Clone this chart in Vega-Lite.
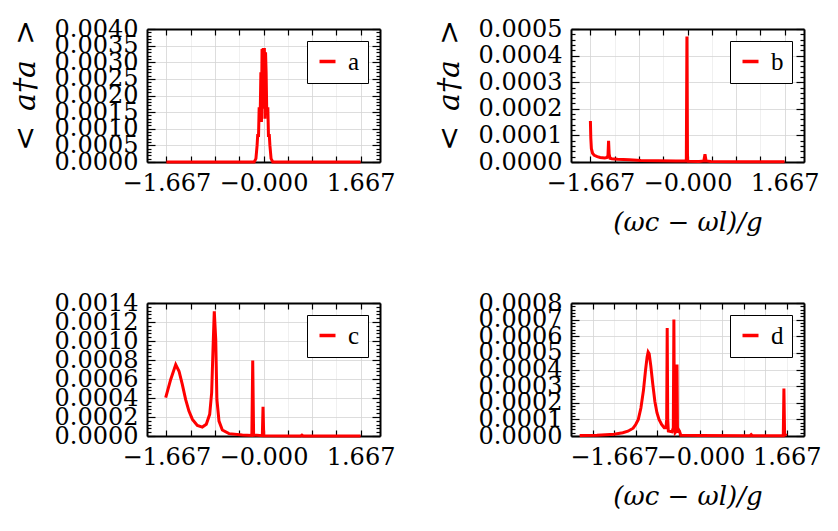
{
  "$schema": "https://vega.github.io/schema/vega-lite/v6.json",
  "background": "white",
  "padding": {"left": 10, "top": 17, "right": 5, "bottom": 5},
  "bounds": "flush",
  "columns": 2,
  "spacing": {"row": 141, "column": 191},
  "resolve": {"scale": {"color": "independent", "x": "independent", "y": "independent"}, "legend": {"color": "independent"}},
  "datasets": {
    "a": [
      {"s":"a","x":-1.667,"y":0},{"s":"a","x":-1.0,"y":0},{"s":"a","x":-0.5,"y":0},{"s":"a","x":-0.16,"y":0},
      {"s":"a","x":-0.13,"y":0.0001},{"s":"a","x":-0.11,"y":0.0005},{"s":"a","x":-0.1,"y":0.0008},{"s":"a","x":-0.085,"y":0.0008},
      {"s":"a","x":-0.075,"y":0.0016},{"s":"a","x":-0.055,"y":0.0016},{"s":"a","x":-0.045,"y":0.0027},{"s":"a","x":-0.035,"y":0.0012},
      {"s":"a","x":-0.025,"y":0.0034},{"s":"a","x":-0.015,"y":0.0016},{"s":"a","x":-0.005,"y":0.00343},{"s":"a","x":0.005,"y":0.0018},
      {"s":"a","x":0.015,"y":0.00343},{"s":"a","x":0.025,"y":0.0013},{"s":"a","x":0.035,"y":0.0033},{"s":"a","x":0.045,"y":0.0027},
      {"s":"a","x":0.055,"y":0.0016},{"s":"a","x":0.075,"y":0.0016},{"s":"a","x":0.085,"y":0.0008},{"s":"a","x":0.1,"y":0.0008},
      {"s":"a","x":0.11,"y":0.0005},{"s":"a","x":0.13,"y":0.0001},{"s":"a","x":0.16,"y":0},{"s":"a","x":0.5,"y":0},
      {"s":"a","x":1.0,"y":0},{"s":"a","x":1.667,"y":0}
    ],
    "b": [
      {"s":"b","x":-1.667,"y":0.000154},{"s":"b","x":-1.66,"y":0.00009},{"s":"b","x":-1.65,"y":0.00005},{"s":"b","x":-1.63,"y":0.000033},
      {"s":"b","x":-1.6,"y":0.000025},{"s":"b","x":-1.55,"y":0.00002},{"s":"b","x":-1.5,"y":0.000017},{"s":"b","x":-1.42,"y":0.000015},
      {"s":"b","x":-1.38,"y":0.000017},{"s":"b","x":-1.365,"y":0.000025},{"s":"b","x":-1.355,"y":0.00008},{"s":"b","x":-1.345,"y":0.00003},
      {"s":"b","x":-1.33,"y":0.000014},{"s":"b","x":-1.3,"y":0.000012},{"s":"b","x":-1.2,"y":0.00001},{"s":"b","x":-1.0,"y":0.000008},
      {"s":"b","x":-0.8,"y":0.000006},{"s":"b","x":-0.5,"y":0.000005},{"s":"b","x":-0.2,"y":0.000004},{"s":"b","x":-0.03,"y":0.000004},
      {"s":"b","x":-0.02,"y":0.00001},{"s":"b","x":-0.01,"y":0.000472},{"s":"b","x":0.0,"y":0.00001},{"s":"b","x":0.01,"y":0.000003},
      {"s":"b","x":0.2,"y":0.000002},{"s":"b","x":0.28,"y":0.000004},{"s":"b","x":0.3,"y":0.000029},{"s":"b","x":0.32,"y":0.000004},
      {"s":"b","x":0.4,"y":0.000002},{"s":"b","x":1.0,"y":0.000001},{"s":"b","x":1.667,"y":0.000001}
    ],
    "c": [
      {"s":"c","x":-1.679,"y":0.000403},{"s":"c","x":-1.593,"y":0.000595},{"s":"c","x":-1.507,"y":0.000752},{"s":"c","x":-1.45,"y":0.000682},
      {"s":"c","x":-1.394,"y":0.000543},{"s":"c","x":-1.337,"y":0.000385},{"s":"c","x":-1.28,"y":0.000262},{"s":"c","x":-1.22,"y":0.000175},
      {"s":"c","x":-1.136,"y":0.000112},{"s":"c","x":-1.05,"y":0.000094},{"s":"c","x":-0.982,"y":0.000123},{"s":"c","x":-0.924,"y":0.000228},
      {"s":"c","x":-0.89,"y":0.000455},{"s":"c","x":-0.867,"y":0.00091},{"s":"c","x":-0.845,"y":0.001312},{"s":"c","x":-0.82,"y":0.001015},
      {"s":"c","x":-0.8,"y":0.000385},{"s":"c","x":-0.764,"y":0.000157},{"s":"c","x":-0.707,"y":0.000063},{"s":"c","x":-0.592,"y":0.000025},
      {"s":"c","x":-0.363,"y":0.00001},{"s":"c","x":-0.2,"y":0.000006},{"s":"c","x":-0.185,"y":0.000794},{"s":"c","x":-0.17,"y":0.00001},
      {"s":"c","x":-0.02,"y":0.000003},{"s":"c","x":-0.008,"y":0.000308},{"s":"c","x":0.004,"y":0.000003},{"s":"c","x":0.64,"y":0.000001},
      {"s":"c","x":0.66,"y":0.00001},{"s":"c","x":0.68,"y":0.000001},{"s":"c","x":1.667,"y":0.000001}
    ],
    "d": [
      {"s":"d","x":-2.333,"y":0.000003},{"s":"d","x":-2.0,"y":0.000005},{"s":"d","x":-1.667,"y":0.000011},{"s":"d","x":-1.5,"y":0.00002},
      {"s":"d","x":-1.4,"y":0.000029},{"s":"d","x":-1.3,"y":0.000047},{"s":"d","x":-1.25,"y":0.000069},{"s":"d","x":-1.2,"y":0.0001},
      {"s":"d","x":-1.15,"y":0.000168},{"s":"d","x":-1.1,"y":0.000276},{"s":"d","x":-1.06,"y":0.000398},{"s":"d","x":-1.03,"y":0.000475},
      {"s":"d","x":-1.01,"y":0.000505},{"s":"d","x":-0.99,"y":0.000495},{"s":"d","x":-0.96,"y":0.000425},{"s":"d","x":-0.92,"y":0.00031},
      {"s":"d","x":-0.88,"y":0.000208},{"s":"d","x":-0.84,"y":0.00014},{"s":"d","x":-0.8,"y":0.0001},{"s":"d","x":-0.75,"y":0.00007},
      {"s":"d","x":-0.7,"y":0.00005},{"s":"d","x":-0.665,"y":0.00005},{"s":"d","x":-0.652,"y":0.0001},{"s":"d","x":-0.642,"y":0.00065},
      {"s":"d","x":-0.632,"y":0.0001},{"s":"d","x":-0.62,"y":0.00003},{"s":"d","x":-0.55,"y":0.000025},{"s":"d","x":-0.524,"y":0.00005},
      {"s":"d","x":-0.513,"y":0.0007},{"s":"d","x":-0.503,"y":0.00005},{"s":"d","x":-0.49,"y":0.00002},{"s":"d","x":-0.465,"y":0.00003},
      {"s":"d","x":-0.453,"y":0.00043},{"s":"d","x":-0.443,"y":0.00002},{"s":"d","x":-0.425,"y":0.00004},{"s":"d","x":-0.405,"y":0.00003},
      {"s":"d","x":-0.38,"y":0.000005},{"s":"d","x":0.0,"y":0.000003},{"s":"d","x":0.96,"y":0.000002},{"s":"d","x":0.98,"y":0.000008},
      {"s":"d","x":1.0,"y":0.000002},{"s":"d","x":1.6,"y":0.000002},{"s":"d","x":1.612,"y":0.000285},{"s":"d","x":1.625,"y":0.00001},
      {"s":"d","x":1.667,"y":0.000003}
    ]
  },
  "concat": [
    {
      "width": 233, "height": 133,
      "data": {"name": "a"},
      "layer": [
        {
          "mark": {"type": "line", "strokeWidth": 3},
          "encoding": {
            "x": {"field": "x", "type": "quantitative", "scale": {"domain": [-2, 2], "nice": false, "zero": false},
              "axis": {"orient": "bottom", "title": null, "values": [-1.66667,-1.25,-0.83333,-0.41667,0,0.41667,0.83333,1.25,1.66667],
                "labelExpr": "abs(datum.value + 1.66667) < 0.01 ? '−1.667' : abs(datum.value) < 0.01 ? '−0.000' : abs(datum.value - 1.66667) < 0.01 ? '1.667' : ''",
                "tickSize": -6, "labelPadding": 15, "grid": true,
                "gridOpacity": {"condition": {"test": "abs(datum.value/0.83333 - round(datum.value/0.83333)) < 0.01", "value": 1}, "value": 0.45}}},
            "y": {"field": "y", "type": "quantitative", "scale": {"domain": [0, 0.004], "nice": false},
              "axis": {"orient": "left", "title": "<\u2002a†a\u2002>", "titleFontStyle": "italic", "titlePadding": 14, "titleY": 56,
                "values": [0,0.0001,0.0002,0.0003,0.0004,0.0005,0.0006,0.0007,0.0008,0.0009,0.001,0.0011,0.0012,0.0013,0.0014,0.0015,0.0016,0.0017,0.0018,0.0019,0.002,0.0021,0.0022,0.0023,0.0024,0.0025,0.0026,0.0027,0.0028,0.0029,0.003,0.0031,0.0032,0.0033,0.0034,0.0035,0.0036,0.0037,0.0038,0.0039,0.004],
                "labelExpr": "abs(datum.value*2000 - round(datum.value*2000)) < 0.01 ? format(datum.value, '.4f') : ''",
                "tickSize": {"condition": {"test": "abs(datum.value*2000 - round(datum.value*2000)) < 0.01", "value": -8}, "value": -4},
                "labelPadding": 17, "grid": true,
                "gridOpacity": {"condition": {"test": "abs(datum.value*2000 - round(datum.value*2000)) < 0.01", "value": 1}, "value": 0}}},
            "color": {"field": "s", "type": "nominal", "scale": {"range": ["red"]}}
          }
        },
        {
          "mark": {"type": "line", "opacity": 0},
          "encoding": {
            "x": {"field": "x", "type": "quantitative", "scale": {"domain": [-2, 2], "nice": false, "zero": false},
              "axis": {"orient": "top", "title": null, "labels": false, "grid": false, "tickSize": -6,
                "values": [-1.66667,-1.25,-0.83333,-0.41667,0,0.41667,0.83333,1.25,1.66667]}},
            "y": {"field": "y", "type": "quantitative", "scale": {"domain": [0, 0.004], "nice": false},
              "axis": {"orient": "right", "title": null, "labels": false, "grid": false,
                "values": [0,0.0001,0.0002,0.0003,0.0004,0.0005,0.0006,0.0007,0.0008,0.0009,0.001,0.0011,0.0012,0.0013,0.0014,0.0015,0.0016,0.0017,0.0018,0.0019,0.002,0.0021,0.0022,0.0023,0.0024,0.0025,0.0026,0.0027,0.0028,0.0029,0.003,0.0031,0.0032,0.0033,0.0034,0.0035,0.0036,0.0037,0.0038,0.0039,0.004],
                "tickSize": {"condition": {"test": "abs(datum.value*2000 - round(datum.value*2000)) < 0.01", "value": -8}, "value": -4}}}
          }
        }
      ]
    },
    {
      "width": 233, "height": 133,
      "data": {"name": "b"},
      "layer": [
        {
          "mark": {"type": "line", "strokeWidth": 3},
          "encoding": {
            "x": {"field": "x", "type": "quantitative", "scale": {"domain": [-2, 2], "nice": false, "zero": false},
              "axis": {"orient": "bottom", "title": "(ωc − ωl)/g", "titleFontStyle": "italic", "titleFontSize": 26, "titlePadding": 14,
                "values": [-1.66667,-1.25,-0.83333,-0.41667,0,0.41667,0.83333,1.25,1.66667],
                "labelExpr": "abs(datum.value + 1.66667) < 0.01 ? '−1.667' : abs(datum.value) < 0.01 ? '−0.000' : abs(datum.value - 1.66667) < 0.01 ? '1.667' : ''",
                "tickSize": -6, "labelPadding": 15, "grid": true,
                "gridOpacity": {"condition": {"test": "abs(datum.value/0.83333 - round(datum.value/0.83333)) < 0.01", "value": 1}, "value": 0.45}}},
            "y": {"field": "y", "type": "quantitative", "scale": {"domain": [0, 0.0005], "nice": false},
              "axis": {"orient": "left", "title": "<\u2002a†a\u2002>", "titleFontStyle": "italic", "titlePadding": 14, "titleY": 56,
                "values": [0,0.00002,0.00004,0.00006,0.00008,0.0001,0.00012,0.00014,0.00016,0.00018,0.0002,0.00022,0.00024,0.00026,0.00028,0.0003,0.00032,0.00034,0.00036,0.00038,0.0004,0.00042,0.00044,0.00046,0.00048,0.0005],
                "labelExpr": "abs(datum.value*10000 - round(datum.value*10000)) < 0.01 ? format(datum.value, '.4f') : ''",
                "tickSize": {"condition": {"test": "abs(datum.value*10000 - round(datum.value*10000)) < 0.01", "value": -8}, "value": -4},
                "labelPadding": 17, "grid": true,
                "gridOpacity": {"condition": {"test": "abs(datum.value*10000 - round(datum.value*10000)) < 0.01", "value": 1}, "value": 0}}},
            "color": {"field": "s", "type": "nominal", "scale": {"range": ["red"]}}
          }
        },
        {
          "mark": {"type": "line", "opacity": 0},
          "encoding": {
            "x": {"field": "x", "type": "quantitative", "scale": {"domain": [-2, 2], "nice": false, "zero": false},
              "axis": {"orient": "top", "title": null, "labels": false, "grid": false, "tickSize": -6,
                "values": [-1.66667,-1.25,-0.83333,-0.41667,0,0.41667,0.83333,1.25,1.66667]}},
            "y": {"field": "y", "type": "quantitative", "scale": {"domain": [0, 0.0005], "nice": false},
              "axis": {"orient": "right", "title": null, "labels": false, "grid": false,
                "values": [0,0.00002,0.00004,0.00006,0.00008,0.0001,0.00012,0.00014,0.00016,0.00018,0.0002,0.00022,0.00024,0.00026,0.00028,0.0003,0.00032,0.00034,0.00036,0.00038,0.0004,0.00042,0.00044,0.00046,0.00048,0.0005],
                "tickSize": {"condition": {"test": "abs(datum.value*10000 - round(datum.value*10000)) < 0.01", "value": -8}, "value": -4}}}
          }
        }
      ]
    },
    {
      "width": 233, "height": 133,
      "data": {"name": "c"},
      "layer": [
        {
          "mark": {"type": "line", "strokeWidth": 3},
          "encoding": {
            "x": {"field": "x", "type": "quantitative", "scale": {"domain": [-2, 2], "nice": false, "zero": false},
              "axis": {"orient": "bottom", "title": null, "values": [-1.66667,-1.25,-0.83333,-0.41667,0,0.41667,0.83333,1.25,1.66667],
                "labelExpr": "abs(datum.value + 1.66667) < 0.01 ? '−1.667' : abs(datum.value) < 0.01 ? '−0.000' : abs(datum.value - 1.66667) < 0.01 ? '1.667' : ''",
                "tickSize": -6, "labelPadding": 15, "grid": true,
                "gridOpacity": {"condition": {"test": "abs(datum.value/0.83333 - round(datum.value/0.83333)) < 0.01", "value": 1}, "value": 0.45}}},
            "y": {"field": "y", "type": "quantitative", "scale": {"domain": [0, 0.0014], "nice": false},
              "axis": {"orient": "left", "title": null,
                "values": [0,0.00004,0.00008,0.00012,0.00016,0.0002,0.00024,0.00028,0.00032,0.00036,0.0004,0.00044,0.00048,0.00052,0.00056,0.0006,0.00064,0.00068,0.00072,0.00076,0.0008,0.00084,0.00088,0.00092,0.00096,0.001,0.00104,0.00108,0.00112,0.00116,0.0012,0.00124,0.00128,0.00132,0.00136,0.0014],
                "labelExpr": "abs(datum.value*5000 - round(datum.value*5000)) < 0.01 ? format(datum.value, '.4f') : ''",
                "tickSize": {"condition": {"test": "abs(datum.value*5000 - round(datum.value*5000)) < 0.01", "value": -8}, "value": -4},
                "labelPadding": 17, "grid": true,
                "gridOpacity": {"condition": {"test": "abs(datum.value*5000 - round(datum.value*5000)) < 0.01", "value": 1}, "value": 0}}},
            "color": {"field": "s", "type": "nominal", "scale": {"range": ["red"]}}
          }
        },
        {
          "mark": {"type": "line", "opacity": 0},
          "encoding": {
            "x": {"field": "x", "type": "quantitative", "scale": {"domain": [-2, 2], "nice": false, "zero": false},
              "axis": {"orient": "top", "title": null, "labels": false, "grid": false, "tickSize": -6,
                "values": [-1.66667,-1.25,-0.83333,-0.41667,0,0.41667,0.83333,1.25,1.66667]}},
            "y": {"field": "y", "type": "quantitative", "scale": {"domain": [0, 0.0014], "nice": false},
              "axis": {"orient": "right", "title": null, "labels": false, "grid": false,
                "values": [0,0.00004,0.00008,0.00012,0.00016,0.0002,0.00024,0.00028,0.00032,0.00036,0.0004,0.00044,0.00048,0.00052,0.00056,0.0006,0.00064,0.00068,0.00072,0.00076,0.0008,0.00084,0.00088,0.00092,0.00096,0.001,0.00104,0.00108,0.00112,0.00116,0.0012,0.00124,0.00128,0.00132,0.00136,0.0014],
                "tickSize": {"condition": {"test": "abs(datum.value*5000 - round(datum.value*5000)) < 0.01", "value": -8}, "value": -4}}}
          }
        }
      ]
    },
    {
      "width": 233, "height": 133,
      "data": {"name": "d"},
      "layer": [
        {
          "mark": {"type": "line", "strokeWidth": 3},
          "encoding": {
            "x": {"field": "x", "type": "quantitative", "scale": {"domain": [-2.5, 2], "nice": false, "zero": false},
              "axis": {"orient": "bottom", "title": "(ωc − ωl)/g", "titleFontStyle": "italic", "titleFontSize": 26, "titlePadding": 14,
                "values": [-2.08333,-1.66667,-1.25,-0.83333,-0.41667,0,0.41667,0.83333,1.25,1.66667],
                "labelExpr": "abs(datum.value + 1.66667) < 0.01 ? '−1.667' : abs(datum.value) < 0.01 ? '−0.000' : abs(datum.value - 1.66667) < 0.01 ? '1.667' : ''",
                "tickSize": -6, "labelPadding": 15, "grid": true,
                "gridOpacity": {"condition": {"test": "abs((datum.value - 0.41667)/0.83333 - round((datum.value - 0.41667)/0.83333)) < 0.01", "value": 1}, "value": 0.45}}},
            "y": {"field": "y", "type": "quantitative", "scale": {"domain": [0, 0.0008], "nice": false},
              "axis": {"orient": "left", "title": null,
                "values": [0,0.00002,0.00004,0.00006,0.00008,0.0001,0.00012,0.00014,0.00016,0.00018,0.0002,0.00022,0.00024,0.00026,0.00028,0.0003,0.00032,0.00034,0.00036,0.00038,0.0004,0.00042,0.00044,0.00046,0.00048,0.0005,0.00052,0.00054,0.00056,0.00058,0.0006,0.00062,0.00064,0.00066,0.00068,0.0007,0.00072,0.00074,0.00076,0.00078,0.0008],
                "labelExpr": "abs(datum.value*10000 - round(datum.value*10000)) < 0.01 ? format(datum.value, '.4f') : ''",
                "tickSize": {"condition": {"test": "abs(datum.value*10000 - round(datum.value*10000)) < 0.01", "value": -8}, "value": -4},
                "labelPadding": 17, "grid": true,
                "gridOpacity": {"condition": {"test": "abs(datum.value*10000 - round(datum.value*10000)) < 0.01", "value": 1}, "value": 0}}},
            "color": {"field": "s", "type": "nominal", "scale": {"range": ["red"]}}
          }
        },
        {
          "mark": {"type": "line", "opacity": 0},
          "encoding": {
            "x": {"field": "x", "type": "quantitative", "scale": {"domain": [-2.5, 2], "nice": false, "zero": false},
              "axis": {"orient": "top", "title": null, "labels": false, "grid": false, "tickSize": -6,
                "values": [-2.08333,-1.66667,-1.25,-0.83333,-0.41667,0,0.41667,0.83333,1.25,1.66667]}},
            "y": {"field": "y", "type": "quantitative", "scale": {"domain": [0, 0.0008], "nice": false},
              "axis": {"orient": "right", "title": null, "labels": false, "grid": false,
                "values": [0,0.00002,0.00004,0.00006,0.00008,0.0001,0.00012,0.00014,0.00016,0.00018,0.0002,0.00022,0.00024,0.00026,0.00028,0.0003,0.00032,0.00034,0.00036,0.00038,0.0004,0.00042,0.00044,0.00046,0.00048,0.0005,0.00052,0.00054,0.00056,0.00058,0.0006,0.00062,0.00064,0.00066,0.00068,0.0007,0.00072,0.00074,0.00076,0.00078,0.0008],
                "tickSize": {"condition": {"test": "abs(datum.value*10000 - round(datum.value*10000)) < 0.01", "value": -8}, "value": -4}}}
          }
        }
      ]
    }
  ],
  "config": {
    "font": "DejaVu Serif",
    "view": {"stroke": null},
    "axis": {
      "labelFont": "DejaVu Serif", "labelFontSize": 24, "labelColor": "black",
      "titleFont": "DejaVu Serif", "titleFontSize": 30, "titleFontWeight": "normal", "titleColor": "black",
      "domainColor": "black", "domainWidth": 2, "tickColor": "black", "tickWidth": 1.2,
      "labelOverlap": false, "labelFlush": false, "labelBound": false,
      "gridColor": "#d4d4d4", "gridWidth": 0.8
    },
    "legend": {
      "title": null, "orient": "top-right", "offset": 12,
      "strokeColor": "black", "fillColor": "white", "padding": 8,
      "symbolType": "stroke", "symbolStrokeWidth": 3.5, "symbolSize": 256,
      "labelFont": "Liberation Serif", "labelFontSize": 25, "labelColor": "black", "labelOffset": 8
    }
  }
}
